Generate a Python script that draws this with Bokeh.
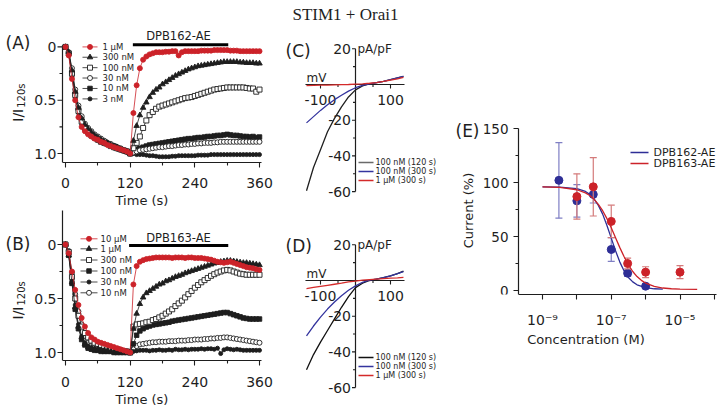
import math
from bokeh.plotting import figure
from bokeh.models import Range1d, FixedTicker, CustomJSTickFormatter
from bokeh.layouts import row, column
from bokeh.embed import file_html
from bokeh.resources import INLINE
from bokeh.core.properties import value

SANS = "DejaVu Sans"
SERIF = "Liberation Serif"
INK = "#1e1e1e"
RED = "#cc2229"
BLUE = "#2e2e96"

# ---------------- data ----------------
time_s = list(range(0, 361, 6))

a_names = ["1 μM", "300 nM", "100 nM", "30 nM", "10 nM", "3 nM"]
a_1uM = [0, 0.08, 0.30, 0.50, 0.66, 0.75, 0.79, 0.82, 0.84, 0.86, 0.87, 0.89, 0.90, 0.92, 0.93, 0.94, 0.95, 0.96, 0.97, 0.98, 1.00,
         0.62, 0.36, 0.20, 0.12, 0.09, 0.07, 0.06, 0.05, 0.05, 0.05,
         0.045, 0.045, 0.04, 0.04, 0.08, 0.05, 0.04, 0.04, 0.04, 0.04,
         0.04, 0.035, 0.035, 0.035, 0.035, 0.03, 0.03, 0.03, 0.03, 0.03,
         0.035, 0.035, 0.035, 0.04, 0.04, 0.04, 0.04, 0.04, 0.04, 0.04]
a_300nM = [0, 0.05, 0.22, 0.42, 0.57, 0.67, 0.73, 0.77, 0.80, 0.83, 0.85, 0.87, 0.89, 0.90, 0.92, 0.93, 0.94, 0.96, 0.97, 0.98, 1.00,
           0.88, 0.74, 0.64, 0.57, 0.52, 0.47, 0.43, 0.40, 0.38, 0.35,
           0.33, 0.31, 0.29, 0.27, 0.255, 0.24, 0.225, 0.21, 0.20, 0.19,
           0.18, 0.175, 0.17, 0.165, 0.16, 0.155, 0.15, 0.145, 0.14, 0.14,
           0.14, 0.14, 0.14, 0.145, 0.145, 0.15, 0.15, 0.15, 0.155, 0.155]
a_100nM = [0, 0.06, 0.25, 0.45, 0.60, 0.70, 0.76, 0.80, 0.83, 0.85, 0.87, 0.89, 0.90, 0.91, 0.93, 0.94, 0.95, 0.96, 0.97, 0.98, 1.00,
           0.95, 0.90, 0.84, 0.76, 0.69, 0.64, 0.61, 0.58, 0.56, 0.55,
           0.54, 0.53, 0.52, 0.51, 0.50, 0.49, 0.48, 0.475, 0.47, 0.46,
           0.45, 0.44, 0.43, 0.42, 0.41, 0.40, 0.395, 0.39, 0.385, 0.38,
           0.38, 0.38, 0.38, 0.38, 0.38, 0.385, 0.39, 0.39, 0.42, 0.40]
a_30nM = [0, 0.05, 0.20, 0.40, 0.55, 0.65, 0.72, 0.76, 0.79, 0.82, 0.84, 0.86, 0.88, 0.90, 0.91, 0.93, 0.94, 0.95, 0.97, 0.98, 1.00,
          0.99, 0.98, 0.97, 0.965, 0.96, 0.955, 0.95, 0.945, 0.94, 0.94,
          0.935, 0.93, 0.93, 0.925, 0.92, 0.92, 0.915, 0.915, 0.91, 0.91,
          0.905, 0.905, 0.90, 0.90, 0.90, 0.895, 0.895, 0.89, 0.89, 0.89,
          0.89, 0.89, 0.89, 0.89, 0.89, 0.89, 0.89, 0.89, 0.89, 0.89]
a_10nM = [0, 0.06, 0.24, 0.44, 0.58, 0.68, 0.74, 0.78, 0.81, 0.84, 0.86, 0.88, 0.89, 0.91, 0.92, 0.93, 0.95, 0.96, 0.97, 0.98, 1.00,
          0.98, 0.96, 0.95, 0.94, 0.93, 0.92, 0.915, 0.91, 0.905, 0.90,
          0.895, 0.89, 0.885, 0.88, 0.875, 0.87, 0.865, 0.86, 0.86, 0.855,
          0.85, 0.85, 0.845, 0.84, 0.84, 0.835, 0.83, 0.83, 0.825, 0.82,
          0.825, 0.83, 0.83, 0.835, 0.84, 0.84, 0.845, 0.84, 0.85, 0.845]
a_3nM = [0, 0.07, 0.28, 0.48, 0.62, 0.72, 0.77, 0.81, 0.84, 0.86, 0.88, 0.89, 0.91, 0.92, 0.93, 0.95, 0.96, 0.97, 0.98, 0.99, 1.00,
         1.00, 1.01, 1.01, 1.01, 1.015, 1.02, 1.02, 1.025, 1.03, 1.03,
         1.03, 1.03, 1.025, 1.025, 1.02, 1.02, 1.02, 1.02, 1.02, 1.02,
         1.015, 1.015, 1.015, 1.015, 1.01, 1.01, 1.01, 1.01, 1.01, 1.01,
         1.01, 1.01, 1.01, 1.01, 1.01, 1.01, 1.01, 1.01, 1.01, 1.01]

b_names = ["10 μM", "1 μM", "300 nM", "100 nM", "30 nM", "10 nM"]
b_10uM = [0, 0.08, 0.25, 0.42, 0.56, 0.68, 0.76, 0.82, 0.86, 0.88, 0.90, 0.91, 0.92, 0.93, 0.94, 0.95, 0.96, 0.97, 0.98, 0.99, 1.00,
          0.37, 0.20, 0.16, 0.145, 0.135, 0.13, 0.125, 0.12, 0.12, 0.12,
          0.12, 0.12, 0.125, 0.12, 0.12, 0.12, 0.125, 0.12, 0.12, 0.125,
          0.125, 0.125, 0.13, 0.135, 0.14, 0.15, 0.16, 0.165, 0.17, 0.165,
          0.16, 0.17, 0.18, 0.19, 0.20, 0.21, 0.215, 0.22, 0.23, 0.235]
b_1uM = [0, 0.10, 0.35, 0.58, 0.76, 0.86, 0.92, 0.95, 0.96, 0.97, 0.97, 0.98, 0.98, 0.98, 0.99, 0.99, 0.99, 0.99, 1.00, 1.00, 1.00,
         0.78, 0.64, 0.55, 0.49, 0.45, 0.43, 0.41, 0.39, 0.37, 0.36,
         0.34, 0.33, 0.315, 0.30, 0.29, 0.28, 0.265, 0.255, 0.245, 0.235,
         0.225, 0.215, 0.205, 0.195, 0.185, 0.175, 0.17, 0.16, 0.155, 0.15,
         0.15, 0.155, 0.16, 0.165, 0.17, 0.17, 0.175, 0.18, 0.185, 0.19]
b_300nM = [0, 0.07, 0.30, 0.50, 0.66, 0.76, 0.82, 0.86, 0.89, 0.91, 0.92, 0.93, 0.94, 0.95, 0.96, 0.97, 0.97, 0.98, 0.99, 0.99, 1.00,
           0.76, 0.74, 0.735, 0.73, 0.72, 0.715, 0.70, 0.69, 0.675, 0.66,
           0.64, 0.62, 0.60, 0.57, 0.545, 0.52, 0.49, 0.46, 0.43, 0.40,
           0.375, 0.35, 0.33, 0.31, 0.29, 0.275, 0.26, 0.25, 0.24, 0.235,
           0.24, 0.25, 0.26, 0.27, 0.275, 0.28, 0.28, 0.28, 0.28, 0.28]
b_100nM = [0, 0.10, 0.36, 0.60, 0.78, 0.88, 0.93, 0.96, 0.97, 0.98, 0.98, 0.99, 0.99, 0.99, 0.99, 1.00, 1.00, 1.00, 1.00, 1.00, 1.00,
           0.92, 0.84, 0.80, 0.78, 0.765, 0.755, 0.745, 0.74, 0.735, 0.73,
           0.725, 0.72, 0.71, 0.705, 0.70, 0.695, 0.69, 0.685, 0.68, 0.675,
           0.67, 0.665, 0.66, 0.655, 0.65, 0.645, 0.64, 0.635, 0.63, 0.63,
           0.64, 0.65, 0.66, 0.67, 0.68, 0.685, 0.69, 0.69, 0.69, 0.69]
b_30nM = [0, 0.09, 0.33, 0.56, 0.74, 0.85, 0.91, 0.94, 0.96, 0.97, 0.98, 0.98, 0.99, 0.99, 0.99, 1.00, 1.00, 1.00, 1.00, 1.00, 1.00,
          0.99, 0.985, 0.98, 0.98, 0.98, 0.985, 0.98, 0.98, 0.975, 0.98,
          0.98, 0.975, 0.98, 0.97, 0.975, 0.975, 0.97, 0.975, 0.97, 0.97,
          0.97, 0.965, 0.97, 0.965, 0.965, 0.97, 0.96, 1.01, 0.975, 0.965,
          0.97, 0.975, 0.97, 0.975, 0.98, 0.98, 0.98, 0.98, 0.98, 0.98]
b_10nM = [0, 0.06, 0.26, 0.46, 0.62, 0.74, 0.82, 0.87, 0.90, 0.92, 0.93, 0.94, 0.95, 0.96, 0.96, 0.97, 0.98, 0.98, 0.99, 0.99, 1.00,
          0.97, 0.94, 0.925, 0.92, 0.915, 0.91, 0.905, 0.905, 0.90, 0.90,
          0.90, 0.895, 0.895, 0.895, 0.89, 0.89, 0.89, 0.885, 0.885, 0.88,
          0.88, 0.88, 0.875, 0.875, 0.87, 0.87, 0.865, 0.865, 0.86, 0.86,
          0.865, 0.87, 0.875, 0.88, 0.885, 0.89, 0.895, 0.90, 0.905, 0.91]

drug_a = (125, 302)
drug_b = (118, 302)

# I-V relations (pA/pF vs mV)
iv_mv = [-140, -120, -100, -80, -60, -40, -20, 0, 20, 40, 60, 80, 100, 120, 137]
iv_names = ["100 nM (120 s)", "100 nM (300 s)", "1 μM (300 s)"]
c_100nM_120s = [-59.5, -46.5, -36.5, -26.5, -19, -12.5, -7, -3, -0.8, 0.3, 1, 1.8, 2.7, 3.7, 4.5]
c_100nM_300s = [-21.5, -18, -14.5, -11.3, -8.5, -6, -3.7, -1.8, -0.5, 0.3, 1, 1.8, 2.7, 3.7, 4.5]
c_1uM_300s = [-0.6, -0.5, -0.4, -0.3, -0.2, -0.1, 0, 0.2, 0.4, 0.7, 1.1, 1.7, 2.4, 3.2, 4.0]
d_100nM_120s = [-50, -41.5, -34.5, -28, -21.5, -15, -9, -4, -1.5, 0, 0.8, 1.6, 2.6, 3.8, 5.2]
d_100nM_300s = [-31, -25.5, -20.5, -16, -12, -8.5, -5.5, -3, -1, 0.2, 0.8, 1.6, 2.6, 3.8, 5.0]
d_1uM_300s = [-4.5, -3.9, -3.3, -2.7, -2.1, -1.5, -0.8, -0.3, 0.2, 0.5, 0.8, 1.1, 1.3, 1.5, 1.7]

# Concentration-response (E)
e_names = ["DPB162-AE", "DPB163-AE"]
dpb162_conc = [3e-9, 1e-8, 3e-8, 1e-7, 3e-7, 1e-6]
dpb162_mean = [102, 83, 89, 38, 16, 4]
dpb162_err = [35, 15, 8, 11, 3, 2]
dpb163_conc = [1e-8, 3e-8, 1e-7, 3e-7, 1e-6, 1e-5]
dpb163_mean = [87, 96, 64, 25, 17, 17]
dpb163_err = [21, 27, 15, 5, 5, 6]
fit162_logc = [-9, -8.5, -8, -7.75, -7.625, -7.5, -7.375, -7.25, -7.125, -7, -6.875, -6.75, -6.625, -6.5, -6.375, -6.25, -6, -5.75, -5.5]
fit162_val = [96, 95.8, 94.4, 91.7, 89, 84.9, 78.8, 70.7, 60.2, 48.5, 36.8, 26.3, 18.1, 12.1, 8.0, 5.3, 2.6, 1.6, 1.2]
fit163_logc = [-9, -8.5, -8, -7.75, -7.625, -7.5, -7.375, -7.25, -7.125, -7, -6.875, -6.75, -6.625, -6.5, -6.375, -6.25, -6.125, -6, -5.75, -5.5, -5.25, -5, -4.5]
fit163_val = [95.9, 95.4, 93.3, 90.4, 87.9, 84.4, 79.8, 73.9, 66.5, 58.1, 48.9, 39.7, 31.2, 23.7, 17.6, 12.9, 9.4, 6.9, 3.8, 2.3, 1.6, 1.3, 1.1]


# ---------------- helpers ----------------
def base(p):
    p.outline_line_color = None
    p.xgrid.visible = False
    p.ygrid.visible = False
    p.background_fill_color = "white"
    p.border_fill_color = "white"


def style_axis(ax, size):
    ax.axis_line_color = INK
    ax.axis_line_width = 1.2
    ax.major_tick_line_color = INK
    ax.minor_tick_line_color = INK
    ax.major_tick_line_width = 1.1
    ax.minor_tick_line_width = 1.1
    ax.major_tick_out = 5
    ax.major_tick_in = 0
    ax.minor_tick_out = 3
    ax.minor_tick_in = 0
    ax.major_label_text_font = SANS
    ax.major_label_text_font_size = size
    ax.major_label_text_color = INK
    ax.axis_label_text_font = SANS
    ax.axis_label_text_font_style = "normal"
    ax.axis_label_text_color = INK
    ax.axis_label_text_font_size = "13px"


def txt(p, xs, ys, texts, size, align="left", font=SANS, angle=0.0):
    p.text(x=xs, y=ys, text=texts, text_font=value(font), text_font_size=size,
           text_color=INK, text_align=align, text_baseline="middle", angle=angle)


def draw_trace(p, t, y, marker, filled, color, size):
    p.line(t, y, line_color=color, line_width=0.8)
    p.scatter(t, y, marker=marker, size=size, line_color=color,
              fill_color=color if filled else "white", line_width=0.9)


# time-course panels: canvas x 0..283, ref pixel geometry (0 s at x=65, 0.5389 px/s)
def time_panel(canvas_top, height, frame_bottom, zero_px, unit_px, series, names, styles,
               leg_rows, leg_x, drug, drug_bar_px, drug_text_px, drug_name, letter, letter_px,
               ylab_px, tick_standoff, lab_standoff):
    tx = lambda px: (px - 65) / 0.5389
    ty = lambda px: (px - zero_px) / unit_px
    y_top = ty(canvas_top)
    y_bot = ty(frame_bottom)
    p = figure(width=283, height=height, x_range=Range1d(tx(0), tx(283)),
               y_range=Range1d(y_bot, y_top), output_backend="svg", toolbar_location=None,
               y_axis_location=None, min_border_left=0, min_border_right=0,
               min_border_top=0, min_border_bottom=canvas_top + height - frame_bottom)
    base(p)
    style_axis(p.xaxis[0], "14px")
    p.xaxis.ticker = FixedTicker(ticks=[0, 120, 240, 360], minor_ticks=[60, 180, 300])
    p.xaxis.bounds = (tx(62), tx(261))
    p.xaxis.major_label_standoff = tick_standoff
    p.xaxis.axis_label = "Time (s)"
    p.xaxis.axis_label_standoff = lab_standoff

    # y axis (inverted, I/I120s)
    yt, ym = [0, 0.5, 1.0], [0.25, 0.75]
    p.line([tx(62), tx(62)], [ty(45), y_bot], line_color=INK, line_width=1.2)
    p.segment(x0=[tx(62)] * 3, y0=yt, x1=[tx(57)] * 3, y1=yt, line_color=INK, line_width=1.1)
    p.segment(x0=[tx(62)] * 2, y0=ym, x1=[tx(59)] * 2, y1=ym, line_color=INK, line_width=1.1)
    txt(p, [tx(56)] * 3, yt, ["0", "0.5", "1.0"], "14px", align="right")
    txt(p, [tx(17)], [ty(ylab_px)], ["I/I"], "14px", angle=math.pi / 2)
    txt(p, [tx(21)], [ty(ylab_px - 14)], ["120s"], "10px", angle=math.pi / 2)
    txt(p, [tx(5)], [ty(letter_px)], [letter], "17px")

    for i in reversed(range(len(series))):
        mk, filled, col, sz = styles[i]
        draw_trace(p, time_s, series[i], mk, filled, col, sz)
        ly = ty(leg_rows[i])
        p.line([tx(leg_x[0]), tx(leg_x[1])], [ly, ly], line_color=col, line_width=0.8)
        p.scatter([tx((leg_x[0] + leg_x[1]) / 2)], [ly], marker=mk, size=sz, line_color=col,
                  fill_color=col if filled else "white", line_width=0.9)
    txt(p, [tx(leg_x[2])] * len(names), [ty(v) for v in leg_rows], names, "8.5px")

    p.segment(x0=[drug[0]], y0=[ty(drug_bar_px)], x1=[drug[1]], y1=[ty(drug_bar_px)],
              line_color="black", line_width=3)
    txt(p, [tx(178)], [ty(drug_text_px)], [drug_name], "11.5px", align="center")
    return p


styles_a = [("circle", True, RED, 5), ("triangle", True, INK, 5.5), ("square", False, INK, 5),
            ("circle", False, INK, 5), ("square", True, INK, 4.5), ("circle", True, INK, 4)]
styles_b = [("circle", True, RED, 5), ("triangle", True, INK, 5.5), ("square", False, INK, 5),
            ("square", True, INK, 4.5), ("circle", True, INK, 4), ("circle", False, INK, 5)]

pA = time_panel(0, 210, 163, 46.7, 107.3,
                [a_1uM, a_300nM, a_100nM, a_30nM, a_10nM, a_3nM], a_names, styles_a,
                [46.7, 57.1, 67.6, 78, 88.5, 99], (82, 97, 102), drug_a, 44.5, 36,
                "DPB162-AE", "(A)", 43, 122, 10, 2)
pB = time_panel(210, 200, 360, 244, 108,
                [b_10uM, b_1uM, b_300nM, b_100nM, b_30nM, b_10nM], b_names, styles_b,
                [238.3, 248.3, 259.5, 270.5, 281.5, 292.3], (80, 97, 100), drug_b, 245, 237,
                "DPB163-AE", "(B)", 243, 319, 11, 2)


# I-V panels: canvas x 283..450 (0 mV at x=355, 0.35 px/mV; 1.785 px per pA/pF)
def iv_panel(canvas_top, height, zero_px, curves, colors, leg_colors, leg_rows, letter,
             letter_px, title=None):
    cx = lambda px: (px - 355) / 0.35
    cy = lambda px: (zero_px - px) / 1.785
    p = figure(width=167, height=height, x_range=Range1d(cx(283), cx(450)),
               y_range=Range1d(cy(canvas_top + height), cy(canvas_top)), output_backend="svg",
               toolbar_location=None, x_axis_location=None, y_axis_location=None,
               min_border=0)
    base(p)
    dx = 1 / 0.35
    dy = 1 / 1.785
    p.line([iv_mv[0] - 3, iv_mv[-1] + 3], [0, 0], line_color=INK, line_width=1.2)
    p.line([0, 0], [-60, 20], line_color=INK, line_width=1.2)
    xt, xm = [-100, 100], [-50, 50]
    yt, ym = [20, -20, -40, -60], [10, -10, -30, -50]
    p.segment(x0=xt, y0=[0] * 2, x1=xt, y1=[-4 * dy] * 2, line_color=INK, line_width=1.1)
    p.segment(x0=xm, y0=[0] * 2, x1=xm, y1=[-2.5 * dy] * 2, line_color=INK, line_width=1.1)
    p.segment(x0=[0] * 4, y0=yt, x1=[-3.5 * dx] * 4, y1=yt, line_color=INK, line_width=1.1)
    p.segment(x0=[0] * 4, y0=ym, x1=[-2.5 * dx] * 4, y1=ym, line_color=INK, line_width=1.1)
    txt(p, xt, [-15 * dy] * 2, ["-100", "100"], "14px", align="center")
    txt(p, [-4.5 * dx] * 4, yt, ["20", "-20", "-40", "-60"], "14px", align="right")
    txt(p, [cx(306), cx(357)], [7 * dy, cy(zero_px - 36)], ["mV", "pA/pF"], "12px")
    txt(p, [cx(285)], [cy(letter_px)], [letter], "17px")
    for vals, col in zip(curves, colors):
        p.line(iv_mv, vals, line_color=col, line_width=1.3)
    for i, col in enumerate(leg_colors):
        yv = cy(leg_rows[i])
        p.line([cx(358), cx(373)], [yv, yv], line_color=col, line_width=1.3)
    txt(p, [cx(375)] * 3, [cy(v) for v in leg_rows], iv_names, "8px")
    if title:
        txt(p, [cx(292)], [cy(14)], [title], "17px", font=SERIF)
    return p


pC = iv_panel(0, 210, 84, [c_100nM_120s, c_100nM_300s, c_1uM_300s],
              ["#202020", "#34349e", "#d42a2a"], ["#6a6a6a", "#34349e", "#d42a2a"],
              [162, 171, 180], "(C)", 50, title="STIM1 + Orai1")
pD = iv_panel(210, 200, 280, [d_100nM_120s, d_100nM_300s, d_1uM_300s],
              ["#111111", "#34349e", "#d42a2a"], ["#111111", "#34349e", "#d42a2a"],
              [357, 366, 375], "(D)", 245)

# ---------------- panel E: canvas x 450..721 (1e-9 M at x=542, 34.375 px/decade) ----------------
ex = lambda px: 10 ** (-9 + (px - 542) / 34.375)
ey = lambda px: (290 - px) / 1.08
pE = figure(width=271, height=410, x_axis_type="log",
            x_range=Range1d(ex(450), ex(721)), y_range=Range1d(ey(294), ey(0)),
            output_backend="svg", toolbar_location=None, y_axis_location=None,
            min_border_left=0, min_border_right=0, min_border_top=0, min_border_bottom=116)
base(pE)
style_axis(pE.xaxis[0], "14px")
pE.xaxis.ticker = FixedTicker(ticks=[1e-9, 1e-8, 1e-7, 1e-6, 1e-5, 1e-4], minor_ticks=[])
pE.xaxis.formatter = CustomJSTickFormatter(code="""
const e = Math.round(Math.log10(tick));
const sup = {"-9": "10\u207b\u2079", "-7": "10\u207b\u2077", "-5": "10\u207b\u2075"};
return sup[String(e)] || "";
""")
pE.xaxis.bounds = (ex(518), ex(716))
pE.xaxis.major_label_standoff = 12
pE.xaxis.axis_label = "Concentration (M)"
pE.xaxis.axis_label_standoff = 1

# y axis of E
eyt, eym = [0, 50, 100, 150], [25, 75, 125]
pE.line([ex(518), ex(518)], [ey(294), 150], line_color=INK, line_width=1.2)
pE.segment(x0=[ex(518)] * 4, y0=eyt, x1=[ex(513)] * 4, y1=eyt, line_color=INK, line_width=1.1)
pE.segment(x0=[ex(518)] * 3, y0=eym, x1=[ex(515)] * 3, y1=eym, line_color=INK, line_width=1.1)
txt(pE, [ex(508)] * 4, eyt, ["0", "50", "100", "150"], "13.5px", align="right")
txt(pE, [ex(468)], [ey(210)], ["Current (%)"], "13px", align="center", angle=math.pi / 2)
txt(pE, [ex(455)], [ey(130)], ["(E)"], "17px")

EBLUE_LIGHT = "#7f7fc4"
ERED_LIGHT = "#d47a7a"
for conc, mean, err, col, light, fl, fv in [
        (dpb162_conc, dpb162_mean, dpb162_err, BLUE, EBLUE_LIGHT, fit162_logc, fit162_val),
        (dpb163_conc, dpb163_mean, dpb163_err, RED, ERED_LIGHT, fit163_logc, fit163_val)]:
    lo = [m - e for m, e in zip(mean, err)]
    hi = [m + e for m, e in zip(mean, err)]
    pE.segment(x0=conc, y0=lo, x1=conc, y1=hi, line_color=light, line_width=1.2)
    pE.scatter(conc + conc, lo + hi, marker="dash", size=7, line_color=light, line_width=1.2)
    pE.line([10 ** v for v in fl], fv, line_color=col, line_width=1.3)
    pE.scatter(conc, mean, marker="circle", size=8, fill_color=col, line_color=col)

for i, col in enumerate([BLUE, RED]):
    yv = ey([152, 163][i])
    pE.line([ex(630), ex(648)], [yv, yv], line_color=col, line_width=1.3)
txt(pE, [ex(653)] * 2, [ey(152), ey(163)], e_names, "11px")

layout = row(column(pA, pB), column(pC, pD), pE)
open("out.html", "w").write(file_html(layout, INLINE))
